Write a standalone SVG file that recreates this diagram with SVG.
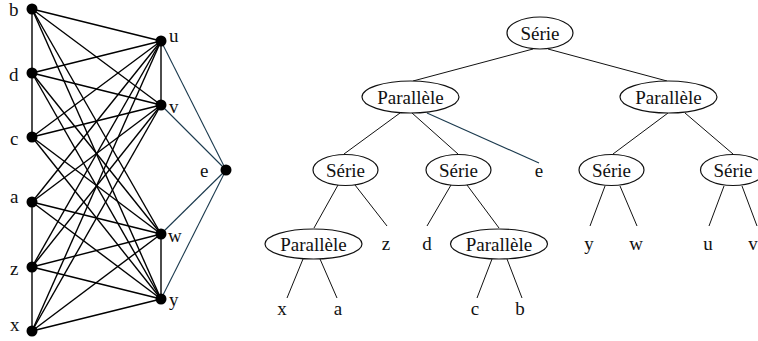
<svg xmlns="http://www.w3.org/2000/svg" width="758" height="341" viewBox="0 0 758 341" font-family="'Liberation Serif', 'Times New Roman', Times, 'DejaVu Serif', serif">
  <style>
    text { font-family: "Liberation Serif", "Times New Roman", Times, "DejaVu Serif", serif; font-size: 19px; fill: #111; }
    .tm { text-anchor: middle; }
    .edge { stroke: #000; stroke-width: 1.4; fill: none; }
    .edge-e { stroke: #1b3a4e; stroke-width: 1.1; fill: none; }
    .dot { fill: #000; }
    .tree { stroke: #111; stroke-width: 1; fill: none; }
    .tree-e { stroke: #1b3a4e; stroke-width: 1.1; fill: none; }
    .oval { fill: #fff; stroke: #111; stroke-width: 1.2; }
  </style>

  <!-- Graph: edges -->
  <g id="graph-edges">
    <!-- left column chain -->
    <line class="edge" x1="32" y1="9" x2="32" y2="73"/>
    <line class="edge" x1="32" y1="73" x2="32" y2="137"/>
    <line class="edge" x1="32" y1="202" x2="32" y2="267"/>
    <line class="edge" x1="32" y1="267" x2="32" y2="331"/>
    <!-- right column pairs -->
    <line class="edge" x1="161" y1="41" x2="161" y2="105"/>
    <line class="edge" x1="161" y1="234" x2="161" y2="299"/>
    <!-- complete join between left and right columns -->
    <line class="edge" x1="32" y1="9" x2="161" y2="41"/>
    <line class="edge" x1="32" y1="9" x2="161" y2="105"/>
    <line class="edge" x1="32" y1="9" x2="161" y2="234"/>
    <line class="edge" x1="32" y1="9" x2="161" y2="299"/>
    <line class="edge" x1="32" y1="73" x2="161" y2="41"/>
    <line class="edge" x1="32" y1="73" x2="161" y2="105"/>
    <line class="edge" x1="32" y1="73" x2="161" y2="234"/>
    <line class="edge" x1="32" y1="73" x2="161" y2="299"/>
    <line class="edge" x1="32" y1="137" x2="161" y2="41"/>
    <line class="edge" x1="32" y1="137" x2="161" y2="105"/>
    <line class="edge" x1="32" y1="137" x2="161" y2="234"/>
    <line class="edge" x1="32" y1="137" x2="161" y2="299"/>
    <line class="edge" x1="32" y1="202" x2="161" y2="41"/>
    <line class="edge" x1="32" y1="202" x2="161" y2="105"/>
    <line class="edge" x1="32" y1="202" x2="161" y2="234"/>
    <line class="edge" x1="32" y1="202" x2="161" y2="299"/>
    <line class="edge" x1="32" y1="267" x2="161" y2="41"/>
    <line class="edge" x1="32" y1="267" x2="161" y2="105"/>
    <line class="edge" x1="32" y1="267" x2="161" y2="234"/>
    <line class="edge" x1="32" y1="267" x2="161" y2="299"/>
    <line class="edge" x1="32" y1="331" x2="161" y2="41"/>
    <line class="edge" x1="32" y1="331" x2="161" y2="105"/>
    <line class="edge" x1="32" y1="331" x2="161" y2="234"/>
    <line class="edge" x1="32" y1="331" x2="161" y2="299"/>
    <!-- e joins the right column -->
    <line class="edge-e" x1="226" y1="170" x2="161" y2="41"/>
    <line class="edge-e" x1="226" y1="170" x2="161" y2="105"/>
    <line class="edge-e" x1="226" y1="170" x2="161" y2="234"/>
    <line class="edge-e" x1="226" y1="170" x2="161" y2="299"/>
  </g>

  <!-- Graph: vertices -->
  <g id="v-b"><circle class="dot" cx="32" cy="9" r="5.5"/><text x="9" y="16">b</text></g>
  <g id="v-d"><circle class="dot" cx="32" cy="73" r="5.5"/><text x="9" y="81">d</text></g>
  <g id="v-c"><circle class="dot" cx="32" cy="137" r="5.5"/><text x="10" y="145">c</text></g>
  <g id="v-a"><circle class="dot" cx="32" cy="202" r="5.5"/><text x="10" y="203">a</text></g>
  <g id="v-z"><circle class="dot" cx="32" cy="267" r="5.5"/><text x="10" y="275">z</text></g>
  <g id="v-x"><circle class="dot" cx="32" cy="331" r="5.5"/><text x="10" y="331">x</text></g>
  <g id="v-u"><circle class="dot" cx="161" cy="41" r="5.5"/><text x="169" y="42">u</text></g>
  <g id="v-v"><circle class="dot" cx="161" cy="105" r="5.5"/><text x="169" y="113">v</text></g>
  <g id="v-w"><circle class="dot" cx="161" cy="234" r="5.5"/><text x="168" y="242">w</text></g>
  <g id="v-y"><circle class="dot" cx="161" cy="299" r="5.5"/><text x="169" y="306">y</text></g>
  <g id="v-e"><circle class="dot" cx="226" cy="170" r="5.5"/><text x="200" y="177">e</text></g>

  <!-- Tree: connectors -->
  <g id="tree-edges">
    <line class="tree" x1="533" y1="49" x2="413" y2="81"/>
    <line class="tree" x1="548" y1="49" x2="667" y2="81"/>
    <line class="tree" x1="400" y1="113" x2="344" y2="154"/>
    <line class="tree" x1="412" y1="113" x2="458" y2="154"/>
    <line class="tree-e" x1="427" y1="113" x2="539" y2="163"/>
    <line class="tree" x1="668" y1="113" x2="613" y2="154"/>
    <line class="tree" x1="685" y1="113" x2="733" y2="154"/>
    <line class="tree" x1="338" y1="185" x2="314" y2="228"/>
    <line class="tree" x1="355" y1="185" x2="387" y2="226"/>
    <line class="tree" x1="451" y1="185" x2="427" y2="226"/>
    <line class="tree" x1="467" y1="185" x2="499" y2="228"/>
    <line class="tree" x1="605" y1="186" x2="590" y2="226"/>
    <line class="tree" x1="620" y1="186" x2="637" y2="226"/>
    <line class="tree" x1="724" y1="186" x2="709" y2="226"/>
    <line class="tree" x1="742" y1="186" x2="757" y2="226"/>
    <line class="tree" x1="303" y1="259" x2="287" y2="298"/>
    <line class="tree" x1="320" y1="259" x2="337" y2="298"/>
    <line class="tree" x1="492" y1="259" x2="477" y2="298"/>
    <line class="tree" x1="507" y1="259" x2="522" y2="298"/>
  </g>

  <!-- Tree: internal nodes -->
  <g id="t-root"><ellipse class="oval" cx="540" cy="33" rx="33" ry="16"/><text class="tm" x="540" y="40">Série</text></g>
  <g id="t-par-left"><ellipse class="oval" cx="410.5" cy="97" rx="48.5" ry="16"/><text class="tm" x="410.5" y="104">Parallèle</text></g>
  <g id="t-par-right"><ellipse class="oval" cx="668.5" cy="97" rx="48.5" ry="16"/><text class="tm" x="668.5" y="104">Parallèle</text></g>
  <g id="t-ser-1"><ellipse class="oval" cx="345.5" cy="170" rx="32.5" ry="15.5"/><text class="tm" x="345.5" y="177">Série</text></g>
  <g id="t-ser-2"><ellipse class="oval" cx="458.5" cy="170" rx="32.5" ry="15.5"/><text class="tm" x="458.5" y="177">Série</text></g>
  <g id="t-ser-3"><ellipse class="oval" cx="611.5" cy="170" rx="32.5" ry="15.5"/><text class="tm" x="611.5" y="177">Série</text></g>
  <g id="t-ser-4"><ellipse class="oval" cx="733" cy="170" rx="32.5" ry="15.5"/><text class="tm" x="733" y="177">Série</text></g>
  <g id="t-par-xa"><ellipse class="oval" cx="313.5" cy="244" rx="48.5" ry="15"/><text class="tm" x="313.5" y="251">Parallèle</text></g>
  <g id="t-par-cb"><ellipse class="oval" cx="499" cy="244" rx="48.5" ry="15"/><text class="tm" x="499" y="251">Parallèle</text></g>

  <!-- Tree: leaves -->
  <g id="t-leaf-e"><text class="tm" x="539" y="177">e</text></g>
  <g id="t-leaf-z"><text class="tm" x="386" y="250">z</text></g>
  <g id="t-leaf-d"><text class="tm" x="427" y="250">d</text></g>
  <g id="t-leaf-y"><text class="tm" x="589" y="250">y</text></g>
  <g id="t-leaf-w"><text class="tm" x="636" y="250">w</text></g>
  <g id="t-leaf-u"><text class="tm" x="708" y="250">u</text></g>
  <g id="t-leaf-v"><text class="tm" x="753" y="250">v</text></g>
  <g id="t-leaf-x"><text class="tm" x="282" y="315">x</text></g>
  <g id="t-leaf-a"><text class="tm" x="338" y="315">a</text></g>
  <g id="t-leaf-c"><text class="tm" x="475" y="315">c</text></g>
  <g id="t-leaf-b"><text class="tm" x="520" y="315">b</text></g>
</svg>
